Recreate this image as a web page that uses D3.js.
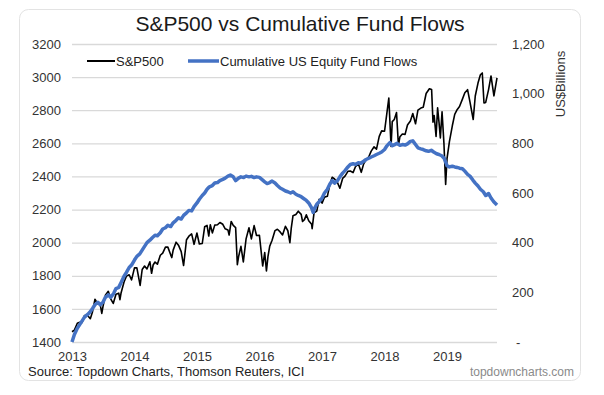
<!DOCTYPE html>
<html>
<head>
<meta charset="utf-8">
<script src="https://d3js.org/d3.v7.min.js"></script>
<style>
  body { margin: 0; background: #ffffff; }
  text { font-family: "Liberation Sans", Arial, sans-serif; }
</style>
</head>
<body>
<div id="chart"></div>
<script>

// S&P500 (left axis), roughly twice a month
var spxDates = ["2013-01-01","2013-01-15","2013-02-01","2013-02-15","2013-03-01","2013-03-15","2013-04-01","2013-04-18","2013-05-01","2013-05-15","2013-05-31","2013-06-15","2013-06-24","2013-07-01","2013-07-15","2013-08-01","2013-08-15","2013-08-30","2013-09-15","2013-10-01","2013-10-08","2013-10-15","2013-11-01","2013-11-15","2013-12-01","2013-12-15",
  "2014-01-01","2014-01-15","2014-02-03","2014-02-15","2014-03-01","2014-03-15","2014-04-01","2014-04-11","2014-04-20","2014-05-01","2014-05-15","2014-06-01","2014-06-15","2014-07-01","2014-07-15","2014-08-01","2014-08-07","2014-08-15","2014-09-01","2014-09-15","2014-10-01","2014-10-15","2014-11-01","2014-11-15","2014-12-01","2014-12-15",
  "2015-01-01","2015-01-15","2015-02-01","2015-02-15","2015-03-01","2015-03-11","2015-03-20","2015-04-01","2015-04-15","2015-05-01","2015-05-15","2015-06-01","2015-06-15","2015-07-01","2015-07-08","2015-07-20","2015-08-01","2015-08-15","2015-08-25","2015-09-01","2015-09-15","2015-09-29","2015-10-15","2015-11-01","2015-11-15","2015-12-01","2015-12-15",
  "2016-01-01","2016-01-12","2016-01-20","2016-02-01","2016-02-11","2016-02-20","2016-03-01","2016-03-15","2016-04-01","2016-04-15","2016-05-01","2016-05-15","2016-06-01","2016-06-15","2016-06-27","2016-07-05","2016-07-15","2016-08-01","2016-08-15","2016-09-01","2016-09-09","2016-09-20","2016-10-01","2016-10-15","2016-11-01","2016-11-04","2016-11-15","2016-12-01","2016-12-15",
  "2017-01-01","2017-01-15","2017-02-01","2017-02-15","2017-03-01","2017-03-15","2017-04-01","2017-04-15","2017-05-01","2017-05-15","2017-06-01","2017-06-15","2017-07-01","2017-07-15","2017-08-01","2017-08-18","2017-09-01","2017-09-15","2017-10-01","2017-10-15","2017-11-01","2017-11-15","2017-12-01","2017-12-15",
  "2018-01-01","2018-01-15","2018-01-26","2018-02-08","2018-02-15","2018-02-27","2018-03-12","2018-03-23","2018-04-01","2018-04-15","2018-05-01","2018-05-15","2018-06-01","2018-06-15","2018-07-01","2018-07-15","2018-08-01","2018-08-15","2018-09-01","2018-09-20","2018-10-03","2018-10-11","2018-10-18","2018-10-29","2018-11-07","2018-11-15","2018-11-23","2018-12-03","2018-12-14","2018-12-24",
  "2019-01-01","2019-01-15","2019-02-01","2019-02-15","2019-03-01","2019-03-15","2019-04-01","2019-04-15","2019-05-01","2019-05-15","2019-06-03","2019-06-15","2019-07-01","2019-07-15","2019-07-26","2019-08-05","2019-08-15","2019-09-01","2019-09-15","2019-10-02","2019-10-20"];
var spxValues = [1462,1472,1513,1519,1518,1560,1562,1541,1583,1658,1631,1626,1573,1614,1682,1706,1661,1633,1688,1695,1656,1698,1762,1798,1806,1775,
  1848,1848,1742,1838,1859,1841,1885,1815,1865,1883,1870,1924,1937,1973,1973,1925,1910,1955,2003,1985,1946,1862,2018,2039,2053,1990,
  2058,1992,1995,2096,2104,2040,2108,2059,2106,2108,2122,2111,2084,2077,2046,2128,2104,2091,1867,1914,1978,1884,2023,2090,2023,2103,2043,
  2044,1938,1859,1940,1829,1917,1978,2015,2073,2081,2065,2047,2099,2072,2000,2088,2162,2170,2190,2171,2128,2139,2168,2132,2111,2085,2180,2191,2262,
  2239,2275,2280,2349,2395,2385,2363,2329,2388,2402,2431,2433,2423,2459,2476,2425,2476,2500,2519,2553,2579,2565,2642,2675,
  2673,2786,2873,2581,2731,2744,2786,2588,2640,2656,2654,2711,2735,2780,2718,2801,2813,2818,2901,2930,2925,2728,2768,2641,2814,2730,2633,2790,2600,2351,
  2507,2610,2706,2775,2803,2822,2867,2905,2924,2850,2744,2886,2964,3014,3025,2844,2847,2926,3007,2887,2995];

// Cumulative US equity fund flows (right axis, US$ billions)
var flowDates = ["2013-01-01","2013-01-15","2013-02-01","2013-02-15","2013-03-01","2013-03-15","2013-04-01","2013-04-15","2013-05-01","2013-05-15","2013-06-01","2013-06-15","2013-07-01","2013-07-15","2013-08-01","2013-08-15","2013-09-01","2013-09-15","2013-10-01","2013-10-15","2013-11-01","2013-11-15","2013-12-01","2013-12-15",
  "2014-01-01","2014-01-15","2014-02-01","2014-02-15","2014-03-01","2014-03-15","2014-04-01","2014-04-15","2014-05-01","2014-05-15","2014-06-01","2014-06-15","2014-07-01","2014-07-15","2014-08-01","2014-08-15","2014-09-01","2014-09-15","2014-10-01","2014-10-15","2014-11-01","2014-11-15","2014-12-01","2014-12-15",
  "2015-01-01","2015-01-15","2015-02-01","2015-02-15","2015-03-01","2015-03-15","2015-04-01","2015-04-15","2015-05-01","2015-05-15","2015-06-01","2015-06-15","2015-07-01","2015-07-15","2015-08-01","2015-08-15","2015-09-01","2015-09-15","2015-10-01","2015-10-15","2015-11-01","2015-11-15","2015-12-01","2015-12-15",
  "2016-01-01","2016-01-15","2016-02-01","2016-02-15","2016-03-01","2016-03-15","2016-04-01","2016-04-15","2016-05-01","2016-05-15","2016-06-01","2016-06-15","2016-07-01","2016-07-15","2016-08-01","2016-08-15","2016-09-01","2016-09-15","2016-10-01","2016-10-15","2016-11-01","2016-11-10","2016-11-20","2016-12-01","2016-12-15",
  "2017-01-01","2017-01-15","2017-02-01","2017-02-15","2017-03-01","2017-03-15","2017-04-01","2017-04-15","2017-05-01","2017-05-15","2017-06-01","2017-06-15","2017-07-01","2017-07-15","2017-08-01","2017-08-15","2017-09-01","2017-09-15","2017-10-01","2017-10-15","2017-11-01","2017-11-15","2017-12-01","2017-12-15",
  "2018-01-01","2018-01-15","2018-02-01","2018-02-15","2018-03-01","2018-03-15","2018-04-01","2018-04-15","2018-05-01","2018-05-15","2018-06-01","2018-06-15","2018-07-01","2018-07-15","2018-08-01","2018-08-15","2018-09-01","2018-09-15","2018-10-01","2018-10-15","2018-11-01","2018-11-15","2018-12-01","2018-12-15",
  "2019-01-01","2019-01-15","2019-02-01","2019-02-15","2019-03-01","2019-03-15","2019-04-01","2019-04-15","2019-05-01","2019-05-15","2019-06-01","2019-06-15","2019-07-01","2019-07-15","2019-08-01","2019-08-15","2019-09-01","2019-09-15","2019-10-01","2019-10-20"];
var flowValues = [0,30,55,70,85,100,110,120,135,150,160,150,160,180,190,180,195,215,220,240,265,280,300,310,
  330,345,355,370,385,400,410,420,430,428,440,455,460,470,465,480,490,500,495,510,520,530,528,545,
  560,575,590,600,615,625,630,640,642,650,655,660,668,672,665,650,660,665,662,668,665,667,662,665,
  663,655,645,638,642,648,640,630,620,615,608,605,600,605,595,590,585,578,570,560,540,522,540,555,565,
  580,600,615,635,650,640,650,665,680,690,705,715,718,715,722,720,728,735,740,745,750,755,760,765,
  775,790,803,790,795,800,792,795,793,798,808,810,795,782,778,775,770,768,772,765,758,755,750,740,
  710,705,708,705,703,700,698,688,675,668,652,640,628,615,605,590,598,580,565,552];

var yearTicks = ["2013","2014","2015","2016","2017","2018","2019"];
var leftTicks = [1400,1600,1800,2000,2200,2400,2600,2800,3000,3200];
var rightTicks = [0,200,400,600,800,1000,1200];
var seriesNames = ["S&P500", "Cumulative US Equity Fund Flows"];

var W = 604, H = 395;
var plot = {left: 72, right: 497, top: 44, bottom: 342};
var parseDate = d3.timeParse("%Y-%m-%d");

var spx = spxDates.map(function(d, i) { return {date: parseDate(d), value: spxValues[i]}; });
var flows = flowDates.map(function(d, i) { return {date: parseDate(d), value: flowValues[i]}; });

var svg = d3.select("#chart").append("svg")
    .attr("width", W)
    .attr("height", H);

// card behind the chart
svg.append("rect")
    .attr("x", 19.5).attr("y", 9.5)
    .attr("width", 561).attr("height", 371)
    .attr("rx", 9)
    .attr("fill", "#fff")
    .attr("stroke", "#e3e3e3");

var x = d3.scaleTime()
    .domain([parseDate("2013-01-01"), parseDate("2019-10-20")])
    .range([plot.left, plot.right]);

var yL = d3.scaleLinear()
    .domain([1400, 3200])
    .range([plot.bottom, plot.top]);

var yR = d3.scaleLinear()
    .domain([0, 1200])
    .range([plot.bottom, plot.top]);

// gridlines
svg.append("g")
    .attr("transform", "translate(" + plot.left + ",0)")
    .call(d3.axisLeft(yL).tickValues(leftTicks).tickSize(-(plot.right - plot.left)).tickFormat(""))
    .call(function(g) { g.select(".domain").remove(); })
    .selectAll("line")
    .attr("stroke", "#d9d9d9")
    .attr("stroke-width", 1.3);

// left axis labels
var leftAxis = svg.append("g")
    .attr("transform", "translate(" + (plot.left - 11) + ",0)")
    .call(d3.axisLeft(yL).tickValues(leftTicks).tickSize(0).tickPadding(0).tickFormat(d3.format("d")));
leftAxis.select(".domain").remove();
leftAxis.selectAll("text")
    .attr("font-size", 13).attr("fill", "#333")
    .attr("font-family", "Liberation Sans, Arial, sans-serif");

// right axis labels
var rightAxis = svg.append("g")
    .attr("transform", "translate(" + (plot.right + 15) + ",0)")
    .call(d3.axisRight(yR).tickValues(rightTicks).tickSize(0).tickPadding(0)
        .tickFormat(function(d) { return d === 0 ? "-" : d3.format(",")(d); }));
rightAxis.select(".domain").remove();
rightAxis.selectAll("text")
    .attr("font-size", 13).attr("fill", "#333")
    .attr("font-family", "Liberation Sans, Arial, sans-serif");
rightAxis.selectAll(".tick text").filter(function(d) { return d === 0; })
    .attr("dx", 4);

// x axis labels
var xAxis = svg.append("g")
    .attr("transform", "translate(0," + (plot.bottom + 10) + ")")
    .call(d3.axisBottom(x).tickValues(yearTicks.map(function(d) { return parseDate(d + "-01-01"); }))
        .tickSize(0).tickPadding(0).tickFormat(d3.timeFormat("%Y")));
xAxis.select(".domain").remove();
xAxis.selectAll("text")
    .attr("font-size", 13).attr("fill", "#333")
    .attr("font-family", "Liberation Sans, Arial, sans-serif");

// right axis title
svg.append("text")
    .attr("transform", "translate(565,84) rotate(-90)")
    .attr("text-anchor", "middle")
    .attr("font-size", 13)
    .attr("fill", "#333")
    .text("US$Billions");

// the lines
var lineL = d3.line()
    .x(function(d) { return x(d.date); })
    .y(function(d) { return yL(d.value); });
var lineR = d3.line()
    .x(function(d) { return x(d.date); })
    .y(function(d) { return yR(d.value); });

svg.append("path")
    .datum(spx)
    .attr("d", lineL)
    .attr("fill", "none")
    .attr("stroke", "#000")
    .attr("stroke-width", 1.6)
    .attr("stroke-linejoin", "round");

svg.append("path")
    .datum(flows)
    .attr("d", lineR)
    .attr("fill", "none")
    .attr("stroke", "#4472c4")
    .attr("stroke-width", 3.5)
    .attr("stroke-linejoin", "round");

// legend
var legend = svg.append("g").attr("transform", "translate(0,61)");
var legendItems = [
    {name: seriesNames[0], x1: 87, x2: 115, color: "#000", w: 2},
    {name: seriesNames[1], x1: 188, x2: 219, color: "#4472c4", w: 3.5}
];
legendItems.forEach(function(d) {
    legend.append("line")
        .attr("x1", d.x1).attr("x2", d.x2)
        .attr("y1", 0).attr("y2", 0)
        .attr("stroke", d.color)
        .attr("stroke-width", d.w);
    legend.append("text")
        .attr("x", d.x2 + 1)
        .attr("y", 0)
        .attr("dy", "0.35em")
        .attr("font-size", 13)
        .attr("fill", "#222")
        .text(d.name);
});

// title
svg.append("text")
    .attr("x", 300)
    .attr("y", 31)
    .attr("text-anchor", "middle")
    .attr("font-size", 21)
    .attr("fill", "#1a1a1a")
    .text("S&P500 vs Cumulative Fund Flows");

// footer
svg.append("text")
    .attr("x", 28)
    .attr("y", 376)
    .attr("font-size", 13)
    .attr("fill", "#222")
    .text("Source: Topdown Charts, Thomson Reuters, ICI");

svg.append("text")
    .attr("x", 574)
    .attr("y", 376)
    .attr("text-anchor", "end")
    .attr("font-size", 12)
    .attr("fill", "#8a8a8a")
    .text("topdowncharts.com");

</script>
</body>
</html>
